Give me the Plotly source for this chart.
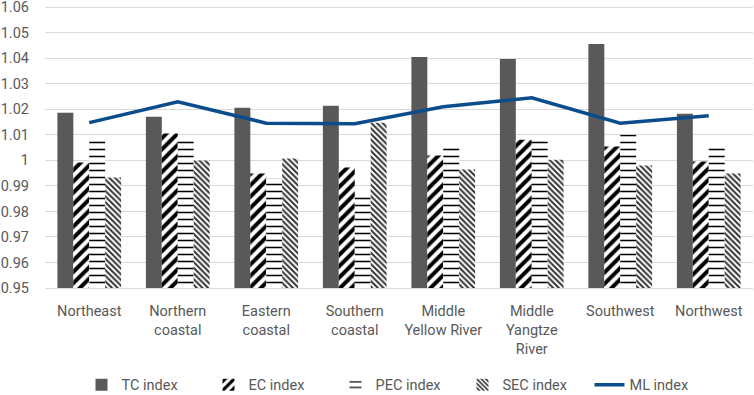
import plotly.graph_objects as go

regions = ["Northeast", "Northern<br>coastal", "Eastern<br>coastal", "Southern<br>coastal",
           "Middle<br>Yellow River", "Middle<br>Yangtze<br>River", "Southwest", "Northwest"]
tc = [1.0187, 1.0171, 1.0206, 1.0214, 1.0405, 1.0397, 1.0456, 1.0183]
ec = [0.9992, 1.0105, 0.9949, 0.9972, 1.0019, 1.0081, 1.0054, 0.9996]
pec = [1.0081, 1.0089, 0.9929, 0.9859, 1.0054, 1.0089, 1.0101, 1.0062]
sec = [0.9933, 1.0000, 1.0007, 1.0148, 0.9964, 1.0003, 0.9980, 0.9949]
ml = [1.0148, 1.0230, 1.0146, 1.0144, 1.0210, 1.0245, 1.0146, 1.0175]

ytick_vals = [0.95, 0.96, 0.97, 0.98, 0.99, 1.00, 1.01, 1.02, 1.03, 1.04, 1.05, 1.06]
ytick_text = ["0.95", "0.96", "0.97", "0.98", "0.99", "1", "1.01", "1.02", "1.03", "1.04", "1.05", "1.06"]

FONT = "Roboto, Arial, sans-serif"
GREY = "#595959"
base = 0.95

fig = go.Figure()
fig.add_bar(x=regions, y=[v - base for v in tc], base=base, name="TC index",
            marker=dict(color=GREY, line=dict(width=0)))
fig.add_bar(x=regions, y=[v - base for v in ec], base=base, name="EC index",
            marker=dict(color="white", line=dict(width=0),
                        pattern=dict(shape="/", fgcolor="black", bgcolor="white", fgopacity=1,
                                     size=8, solidity=0.5)))
fig.add_bar(x=regions, y=[v - base for v in pec], base=base, name="PEC index",
            marker=dict(color="white", line=dict(width=0),
                        pattern=dict(shape="-", fgcolor="black", bgcolor="white", fgopacity=1,
                                     size=7, solidity=0.22)))
fig.add_bar(x=regions, y=[v - base for v in sec], base=base, name="SEC index",
            marker=dict(color="white", line=dict(width=0),
                        pattern=dict(shape="\\", fgcolor="#333333", bgcolor="white", fgopacity=1,
                                     size=4, solidity=0.5)))
fig.add_scatter(x=regions, y=ml, name="ML index", mode="lines",
                line=dict(color="#0a4c8c", width=3.5))

fig.update_layout(
    width=754, height=395,
    margin=dict(l=45, r=1, t=6, b=107, autoexpand=False),
    paper_bgcolor="white", plot_bgcolor="white",
    barmode="group", bargap=0.28, bargroupgap=0,
    font=dict(family=FONT, size=14.5, color=GREY),
    showlegend=True,
    legend=dict(orientation="h", x=0.5, xanchor="center", y=-0.343, yanchor="middle",
                font=dict(size=14.5, color=GREY), entrywidth=82, traceorder="normal"),
)
fig.update_yaxes(range=[0.95, 1.0605], tickvals=ytick_vals, ticktext=ytick_text,
                 showgrid=True, gridcolor="#d9d9d9", gridwidth=1, zeroline=False,
                 showline=False, ticks="", automargin=False, ticklabelstandoff=15,
                 ticklabeloverflow="allow", tickfont=dict(size=14.5, color=GREY))
fig.update_xaxes(showgrid=False, showline=True, linecolor="#d9d9d9", linewidth=1, ticks="",
                 automargin=False, ticklabelstandoff=10, ticklabeloverflow="allow",
                 tickfont=dict(size=14.5, color=GREY), tickangle=0)

fig.write_html("out.html", config={"displayModeBar": False},
               post_script="document.body.style.margin='0';document.body.style.overflow='hidden';")
